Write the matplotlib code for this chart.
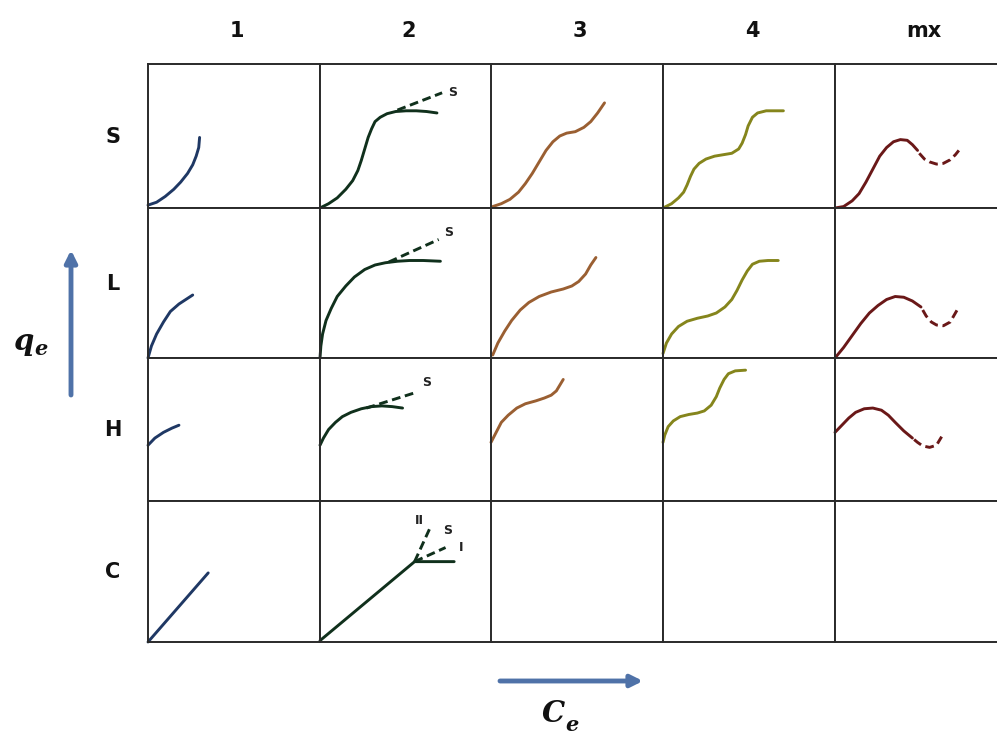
import matplotlib
matplotlib.use("Agg")
import matplotlib.pyplot as plt

# ---------------- data ----------------
col_labels = ["1", "2", "3", "4", "mx"]
row_labels = ["S", "L", "H", "C"]
col_colors = ["#1f3864", "#10301c", "#9a5f32", "#85851c", "#6a1818"]

# curves in cell-fraction coordinates (x, y)
s1_x = [0.0, 0.05, 0.10, 0.15, 0.19, 0.23, 0.26, 0.28, 0.295, 0.30]
s1_y = [0.02, 0.04, 0.08, 0.13, 0.18, 0.24, 0.30, 0.36, 0.42, 0.49]
s2_x = [0.0, 0.05, 0.10, 0.15, 0.19, 0.22, 0.24, 0.26, 0.28, 0.30, 0.32, 0.35,
        0.39, 0.44, 0.50, 0.56, 0.62, 0.68]
s2_y = [0.0, 0.03, 0.07, 0.13, 0.19, 0.26, 0.33, 0.41, 0.49, 0.55, 0.60, 0.63,
        0.655, 0.67, 0.675, 0.675, 0.67, 0.66]
s2d_x = [0.45, 0.71]
s2d_y = [0.68, 0.80]
s3_x = [0.01, 0.06, 0.11, 0.16, 0.20, 0.24, 0.28, 0.32, 0.36, 0.40, 0.44, 0.49,
        0.54, 0.58, 0.62, 0.66]
s3_y = [0.01, 0.03, 0.06, 0.11, 0.17, 0.24, 0.32, 0.40, 0.46, 0.50, 0.52, 0.53,
        0.56, 0.60, 0.66, 0.73]
s4_x = [0.0, 0.05, 0.09, 0.12, 0.14, 0.16, 0.18, 0.21, 0.25, 0.30, 0.35, 0.40,
        0.44, 0.46, 0.48, 0.495, 0.52, 0.55, 0.60, 0.65, 0.70]
s4_y = [0.0, 0.03, 0.07, 0.11, 0.16, 0.22, 0.27, 0.31, 0.34, 0.36, 0.37, 0.38,
        0.41, 0.45, 0.51, 0.57, 0.63, 0.66, 0.675, 0.675, 0.675]
s5_x = [0.0, 0.05, 0.10, 0.14, 0.18, 0.22, 0.26, 0.30, 0.34, 0.38, 0.42, 0.45, 0.48]
s5_y = [0.0, 0.01, 0.05, 0.10, 0.18, 0.27, 0.36, 0.42, 0.46, 0.475, 0.47, 0.44, 0.40]
s5d_x = [0.49, 0.52, 0.55, 0.59, 0.63, 0.67, 0.70, 0.72]
s5d_y = [0.38, 0.34, 0.32, 0.305, 0.31, 0.335, 0.37, 0.40]

l1_x = [0.0, 0.02, 0.05, 0.09, 0.13, 0.18, 0.22, 0.26]
l1_y = [0.0, 0.08, 0.16, 0.24, 0.31, 0.36, 0.39, 0.42]
l2_x = [0.0, 0.005, 0.015, 0.035, 0.065, 0.10, 0.15, 0.20, 0.26, 0.32, 0.38,
        0.45, 0.52, 0.60, 0.70]
l2_y = [0.0, 0.08, 0.16, 0.25, 0.33, 0.41, 0.48, 0.54, 0.59, 0.62, 0.635,
        0.645, 0.65, 0.65, 0.645]
l2d_x = [0.40, 0.69]
l2d_y = [0.64, 0.79]
l3_x = [0.01, 0.04, 0.08, 0.12, 0.17, 0.22, 0.28, 0.35, 0.42, 0.47, 0.51, 0.55,
        0.58, 0.61]
l3_y = [0.02, 0.10, 0.18, 0.25, 0.32, 0.37, 0.41, 0.44, 0.46, 0.48, 0.51, 0.56,
        0.62, 0.67]
l4_x = [0.0, 0.02, 0.05, 0.09, 0.14, 0.20, 0.26, 0.31, 0.36, 0.40, 0.43, 0.46,
        0.49, 0.52, 0.56, 0.61, 0.67]
l4_y = [0.03, 0.10, 0.16, 0.21, 0.245, 0.265, 0.28, 0.30, 0.34, 0.39, 0.45, 0.52,
        0.58, 0.625, 0.645, 0.65, 0.65]
l5_x = [0.0, 0.05, 0.10, 0.15, 0.20, 0.25, 0.30, 0.35, 0.40, 0.45, 0.50]
l5_y = [0.0, 0.07, 0.15, 0.23, 0.30, 0.35, 0.39, 0.41, 0.405, 0.38, 0.34]
l5d_x = [0.51, 0.53, 0.56, 0.59, 0.63, 0.67, 0.69, 0.71]
l5d_y = [0.32, 0.28, 0.24, 0.22, 0.215, 0.24, 0.28, 0.32]

h1_x = [0.0, 0.04, 0.09, 0.14, 0.18]
h1_y = [0.39, 0.44, 0.48, 0.51, 0.53]
h2_x = [0.0, 0.02, 0.05, 0.09, 0.13, 0.18, 0.24, 0.30, 0.36, 0.42, 0.48]
h2_y = [0.39, 0.44, 0.50, 0.55, 0.59, 0.62, 0.645, 0.66, 0.665, 0.66, 0.65]
h2d_x = [0.27, 0.56]
h2d_y = [0.65, 0.76]
h3_x = [0.0, 0.03, 0.06, 0.10, 0.15, 0.20, 0.26, 0.31, 0.35, 0.38, 0.40, 0.42]
h3_y = [0.41, 0.48, 0.55, 0.60, 0.65, 0.68, 0.70, 0.72, 0.74, 0.77, 0.81, 0.85]
h4_x = [0.0, 0.01, 0.03, 0.06, 0.10, 0.15, 0.20, 0.24, 0.28, 0.31, 0.33, 0.355,
        0.38, 0.42, 0.48]
h4_y = [0.41, 0.46, 0.52, 0.56, 0.59, 0.605, 0.615, 0.63, 0.67, 0.73, 0.79, 0.85,
        0.89, 0.91, 0.915]
h5_x = [0.0, 0.04, 0.08, 0.12, 0.17, 0.22, 0.27, 0.31, 0.35, 0.40, 0.45]
h5_y = [0.48, 0.53, 0.58, 0.62, 0.645, 0.65, 0.635, 0.60, 0.55, 0.49, 0.44]
h5d_x = [0.46, 0.48, 0.51, 0.55, 0.59, 0.62]
h5d_y = [0.43, 0.41, 0.385, 0.375, 0.39, 0.45]

c1_x = [0.0, 0.35]
c1_y = [0.0, 0.49]
c2_x = [0.0, 0.55, 0.78]
c2_y = [0.01, 0.57, 0.57]
c2I_x = [0.55, 0.73]
c2I_y = [0.57, 0.67]
c2II_x = [0.55, 0.64]
c2II_y = [0.57, 0.81]

solid = {
    (0, 0): (s1_x, s1_y), (0, 1): (s2_x, s2_y), (0, 2): (s3_x, s3_y),
    (0, 3): (s4_x, s4_y), (0, 4): (s5_x, s5_y),
    (1, 0): (l1_x, l1_y), (1, 1): (l2_x, l2_y), (1, 2): (l3_x, l3_y),
    (1, 3): (l4_x, l4_y), (1, 4): (l5_x, l5_y),
    (2, 0): (h1_x, h1_y), (2, 1): (h2_x, h2_y), (2, 2): (h3_x, h3_y),
    (2, 3): (h4_x, h4_y), (2, 4): (h5_x, h5_y),
    (3, 0): (c1_x, c1_y), (3, 1): (c2_x, c2_y),
}
dashed = {
    (0, 1): [(s2d_x, s2d_y)], (0, 4): [(s5d_x, s5d_y)],
    (1, 1): [(l2d_x, l2d_y)], (1, 4): [(l5d_x, l5d_y)],
    (2, 1): [(h2d_x, h2d_y)], (2, 4): [(h5d_x, h5d_y)],
    (3, 1): [(c2I_x, c2I_y), (c2II_x, c2II_y)],
}
annot = {
    (0, 1): [("S", 0.77, 0.80)],
    (1, 1): [("S", 0.75, 0.84)],
    (2, 1): [("S", 0.62, 0.83)],
    (3, 1): [("II", 0.58, 0.86), ("S", 0.74, 0.79), ("I", 0.82, 0.67)],
}

# ---------------- layout ----------------
W, H = 997, 742
col_left = [148, 320, 491, 663, 835]
col_w = 172
row_top = [64, 208, 358, 501]
row_bot = [208, 358, 501, 642]

fig = plt.figure(figsize=(W / 100, H / 100), dpi=100)
fig.patch.set_facecolor("white")

bg = fig.add_axes([0, 0, 1, 1])
bg.set_xlim(0, W)
bg.set_ylim(H, 0)
bg.axis("off")

for r in range(4):
    for c in range(5):
        x0 = col_left[c]
        y0 = row_top[r]
        h = row_bot[r] - y0
        ax = fig.add_axes([x0 / W, 1 - (y0 + h) / H, col_w / W, h / H])
        ax.set_xlim(0, 1)
        ax.set_ylim(0, 1)
        ax.set_xticks([])
        ax.set_yticks([])
        for sp in ax.spines.values():
            sp.set_linewidth(1.4)
            sp.set_color("#2a2a2a")
        color = col_colors[c]
        if (r, c) in solid:
            xs, ys = solid[(r, c)]
            ax.plot(xs, ys, color=color, lw=2.1, solid_capstyle="round",
                    solid_joinstyle="round", clip_on=False)
        for xs, ys in dashed.get((r, c), []):
            ax.plot(xs, ys, color=color, lw=2.1, linestyle=(0, (3, 1.6)),
                    clip_on=False)
        for txt, tx, ty in annot.get((r, c), []):
            ax.text(tx, ty, txt, fontsize=9, fontweight="bold", color="#222222",
                    ha="center", va="center", family="DejaVu Sans")

# headers
for c, lab in enumerate(col_labels):
    bg.text(col_left[c] + col_w / 2 + 3, 31, lab, fontsize=15, fontweight="bold",
            ha="center", va="center", color="#111111", family="DejaVu Sans")
for r, lab in enumerate(row_labels):
    bg.text(113, (row_top[r] + row_bot[r]) / 2 + 1, lab, fontsize=15,
            fontweight="bold", ha="center", va="center", color="#111111",
            family="DejaVu Sans")

# arrows
arrow_col = "#4f72a8"
bg.annotate("", xy=(71, 250), xytext=(71, 395),
            arrowprops=dict(arrowstyle="-|>,head_length=0.7,head_width=0.35",
                            color=arrow_col, lw=3.5, shrinkA=0, shrinkB=0))
bg.annotate("", xy=(643, 681), xytext=(500, 681),
            arrowprops=dict(arrowstyle="-|>,head_length=0.7,head_width=0.35",
                            color=arrow_col, lw=3.5, shrinkA=0, shrinkB=0))

# axis quantity labels
lab_kw = dict(family="DejaVu Serif", style="italic", fontweight="bold",
              color="#111111")
bg.text(23, 341, "q", fontsize=21, ha="center", va="center", **lab_kw)
bg.text(41, 349, "e", fontsize=15, ha="center", va="center", **lab_kw)
bg.text(553, 714, "C", fontsize=21, ha="center", va="center", **lab_kw)
bg.text(572, 725, "e", fontsize=15, ha="center", va="center", **lab_kw)

fig.savefig("out.png", dpi=100, facecolor="white")
